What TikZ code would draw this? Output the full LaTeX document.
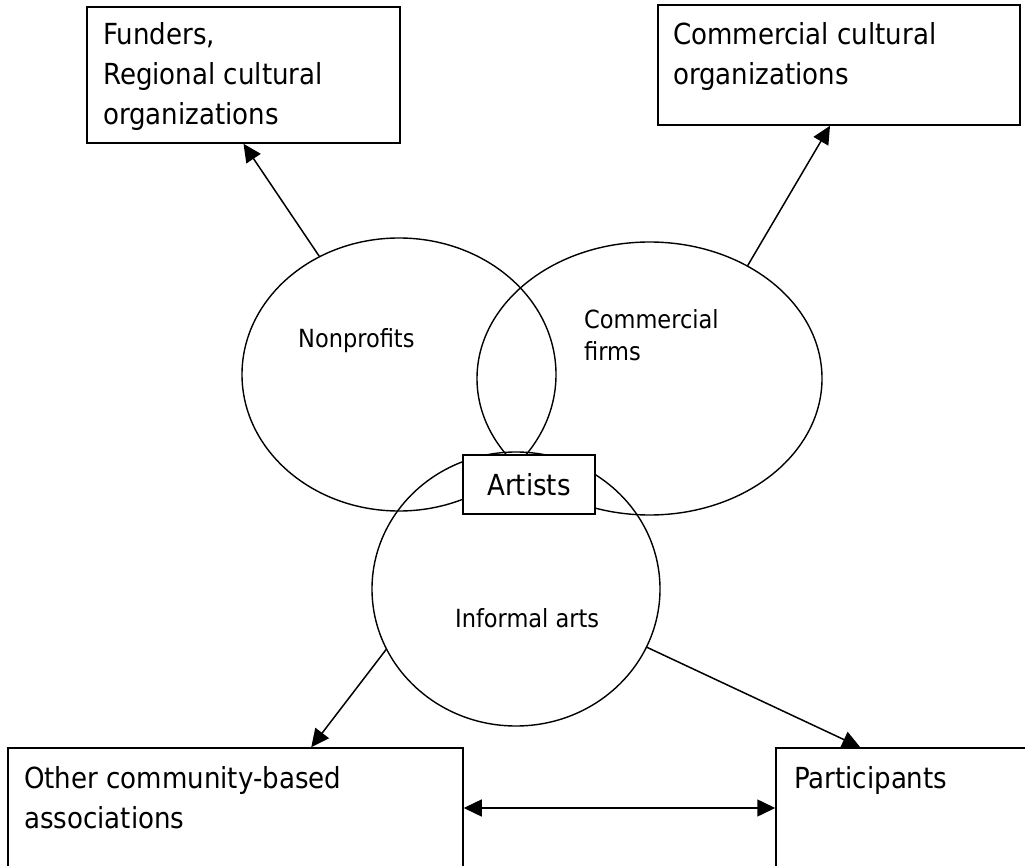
\documentclass[tikz,border=0pt]{standalone}
\usepackage{fontspec}
\setmainfont{DejaVu Sans Condensed}
\usetikzlibrary{shapes.geometric,arrows.meta,calc}
\tikzset{
  box/.style={draw,line width=1.5pt,inner sep=0pt,fill=white},
  oval/.style={draw,ellipse,line width=1.4pt,inner sep=0pt},
  bigtxt/.style={inner sep=0pt,anchor=base west,align=left,font=\fontsize{29}{40}\selectfont},
  smalltxt/.style={inner sep=0pt,anchor=base west,align=left,font=\fontsize{25}{32}\selectfont},
  arr/.style={line width=1.5pt,-{Triangle[length=18pt,width=17pt]}},
  arrtwo/.style={line width=1.5pt,{Triangle[length=18pt,width=17pt]}-{Triangle[length=18pt,width=17pt]}}
}
\begin{document}
\begin{tikzpicture}[x=1pt,y=-1pt]
\useasboundingbox (0,0) rectangle (1025,866);
\clip (0,0) rectangle (1025,866);
\fill[white] (0,0) rectangle (1025,866);
% boxes
\node[box,minimum width=313pt,minimum height=136pt] (fb) at (243.5,75) {};
\node[box,minimum width=362pt,minimum height=120pt] (cb) at (839,65) {};
\node[box,minimum width=455pt,minimum height=120pt] (ob) at (235.5,808) {};
\node[box,minimum width=300pt,minimum height=120pt] (pb) at (926,808) {};
\node[bigtxt] (fbt) at (103,125) {Funders,\\Regional cultural\\organizations};
\node[bigtxt] (cbt) at (673,85) {Commercial cultural\\organizations};
\node[bigtxt] (obt) at (24,828) {Other community-based\\associations};
\node[bigtxt] (pbt) at (794,788) {Participants};
% ellipses
\node[oval,minimum width=314pt,minimum height=273pt] (np) at (399,374.5) {};
\node[oval,minimum width=345pt,minimum height=273pt] (cf) at (649.5,378.5) {};
\node[oval,minimum width=288pt,minimum height=274pt] (ia) at (516,589) {};
\node[smalltxt] (npt) at (298,348) {Nonprofits};
\node[smalltxt] (cft) at (584,360) {Commercial\\firms};
\node[smalltxt] (iat) at (455,627) {Informal arts};
\node[box,minimum width=132pt,minimum height=59pt,font=\fontsize{29}{40}\selectfont] (art) at (529,484.5) {Artists};
% arrows
\draw[arr] (np.124) -- (fb.south);
\draw[arr] (cf.49) -- ($(cb.south)+(-9,0)$);
\draw[arr] (ia.205) -- ($(ob.north west)+(304,0)$);
\draw[arr] (ia.336) -- ($(pb.north west)+(85,0)$);
\draw[arrtwo] (ob.east) -- (pb.west);
\end{tikzpicture}
\end{document}
